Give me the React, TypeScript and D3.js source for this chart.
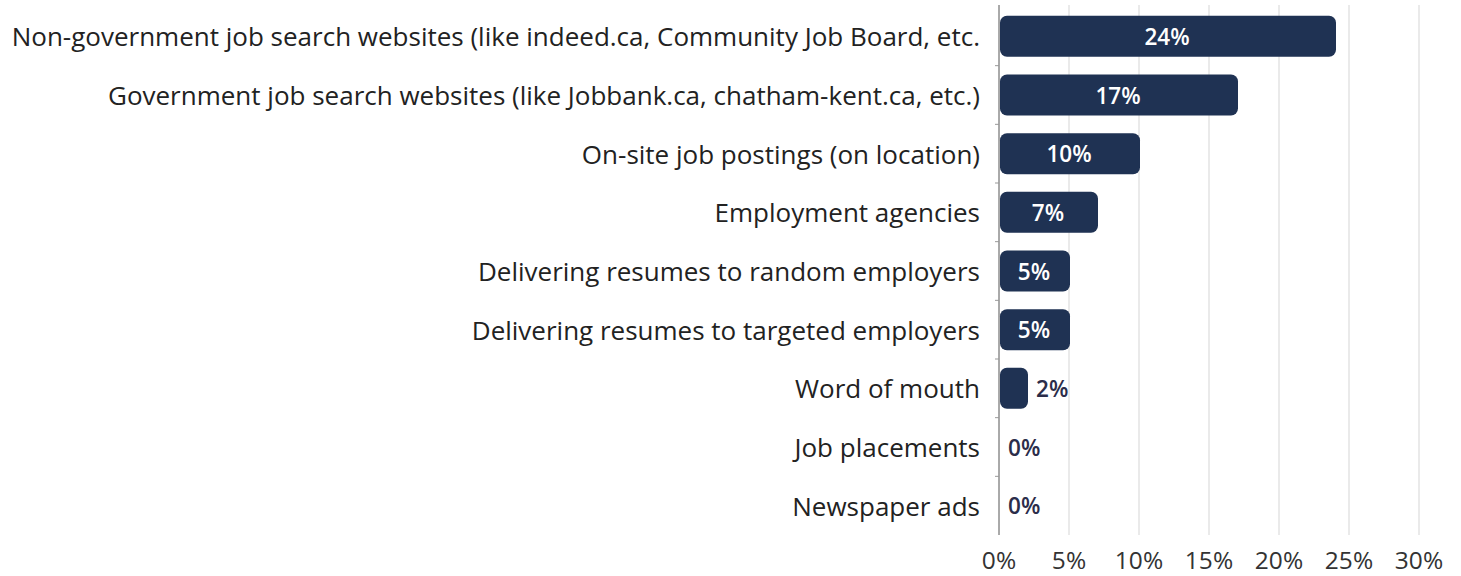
import React from "react";
import * as d3 from "d3";

const categories = [
  "Non-government job search websites (like indeed.ca, Community Job Board, etc.",
  "Government job search websites (like Jobbank.ca, chatham-kent.ca, etc.)",
  "On-site job postings (on location)",
  "Employment agencies",
  "Delivering resumes to random employers",
  "Delivering resumes to targeted employers",
  "Word of mouth",
  "Job placements",
  "Newspaper ads",
];
const values = [24, 17, 10, 7, 5, 5, 2, 0, 0];
const ticks = [0, 5, 10, 15, 20, 25, 30];

const W = 1461;
const H = 576;
const FONT = "'Open Sans', 'Noto Sans', sans-serif";

export default function App() {
  const x = d3.scaleLinear().domain([0, 30]).range([999, 1419]);
  const y = d3.scaleBand<string>().domain(categories).range([7, 535]).paddingInner(0.3).paddingOuter(0.15);
  const bw = y.bandwidth();
  const step = y.step();
  return (
    <svg width={W} height={H} style={{ position: "absolute", left: 0, top: 0, background: "#fff" }}>
      <rect width={W} height={H} fill="#fff" />
      {ticks.slice(1).map((t) => (
        <line key={t} x1={x(t)} x2={x(t)} y1={5} y2={535} stroke="#e3e3e3" strokeWidth={1.5} />
      ))}
      <line x1={x(0)} x2={x(0)} y1={5} y2={535} stroke="#555" strokeWidth={1} />
      {categories.map((c, i) =>
        i > 0 ? (
          <line key={"tk" + i} x1={x(0) - 4} x2={x(0)} y1={(y(c) as number) - (step - bw) / 2} y2={(y(c) as number) - (step - bw) / 2} stroke="#999" />
        ) : null
      )}
      {categories.map((c, i) => {
        const cy = (y(c) as number) + bw / 2;
        const v = values[i];
        const w = x(v) - x(0);
        const inside = v >= 5;
        return (
          <g key={c}>
            <text x={980} y={cy} textAnchor="end" dominantBaseline="central" fontFamily={FONT} fontSize={26} fill="#222">
              {c}
            </text>
            {v > 0 && (
              <rect x={x(0) + 1} y={y(c)} width={w} height={bw} rx={7} ry={7} fill="#1f3253" />
            )}
            <text
              x={inside ? x(0) + w / 2 : x(v) + 9}
              y={cy}
              textAnchor={inside ? "middle" : "start"}
              dominantBaseline="central"
              fontFamily={FONT}
              fontSize={22.5}
              fontWeight={600}
              fill={inside ? "#fff" : "#2b2d4a"}
            >
              {v}%
            </text>
          </g>
        );
      })}
      {ticks.map((t) => (
        <text key={"l" + t} x={x(t)} y={559} textAnchor="middle" dominantBaseline="central" fontFamily={FONT} fontSize={24.5} fill="#333">
          {t}%
        </text>
      ))}
    </svg>
  );
}
